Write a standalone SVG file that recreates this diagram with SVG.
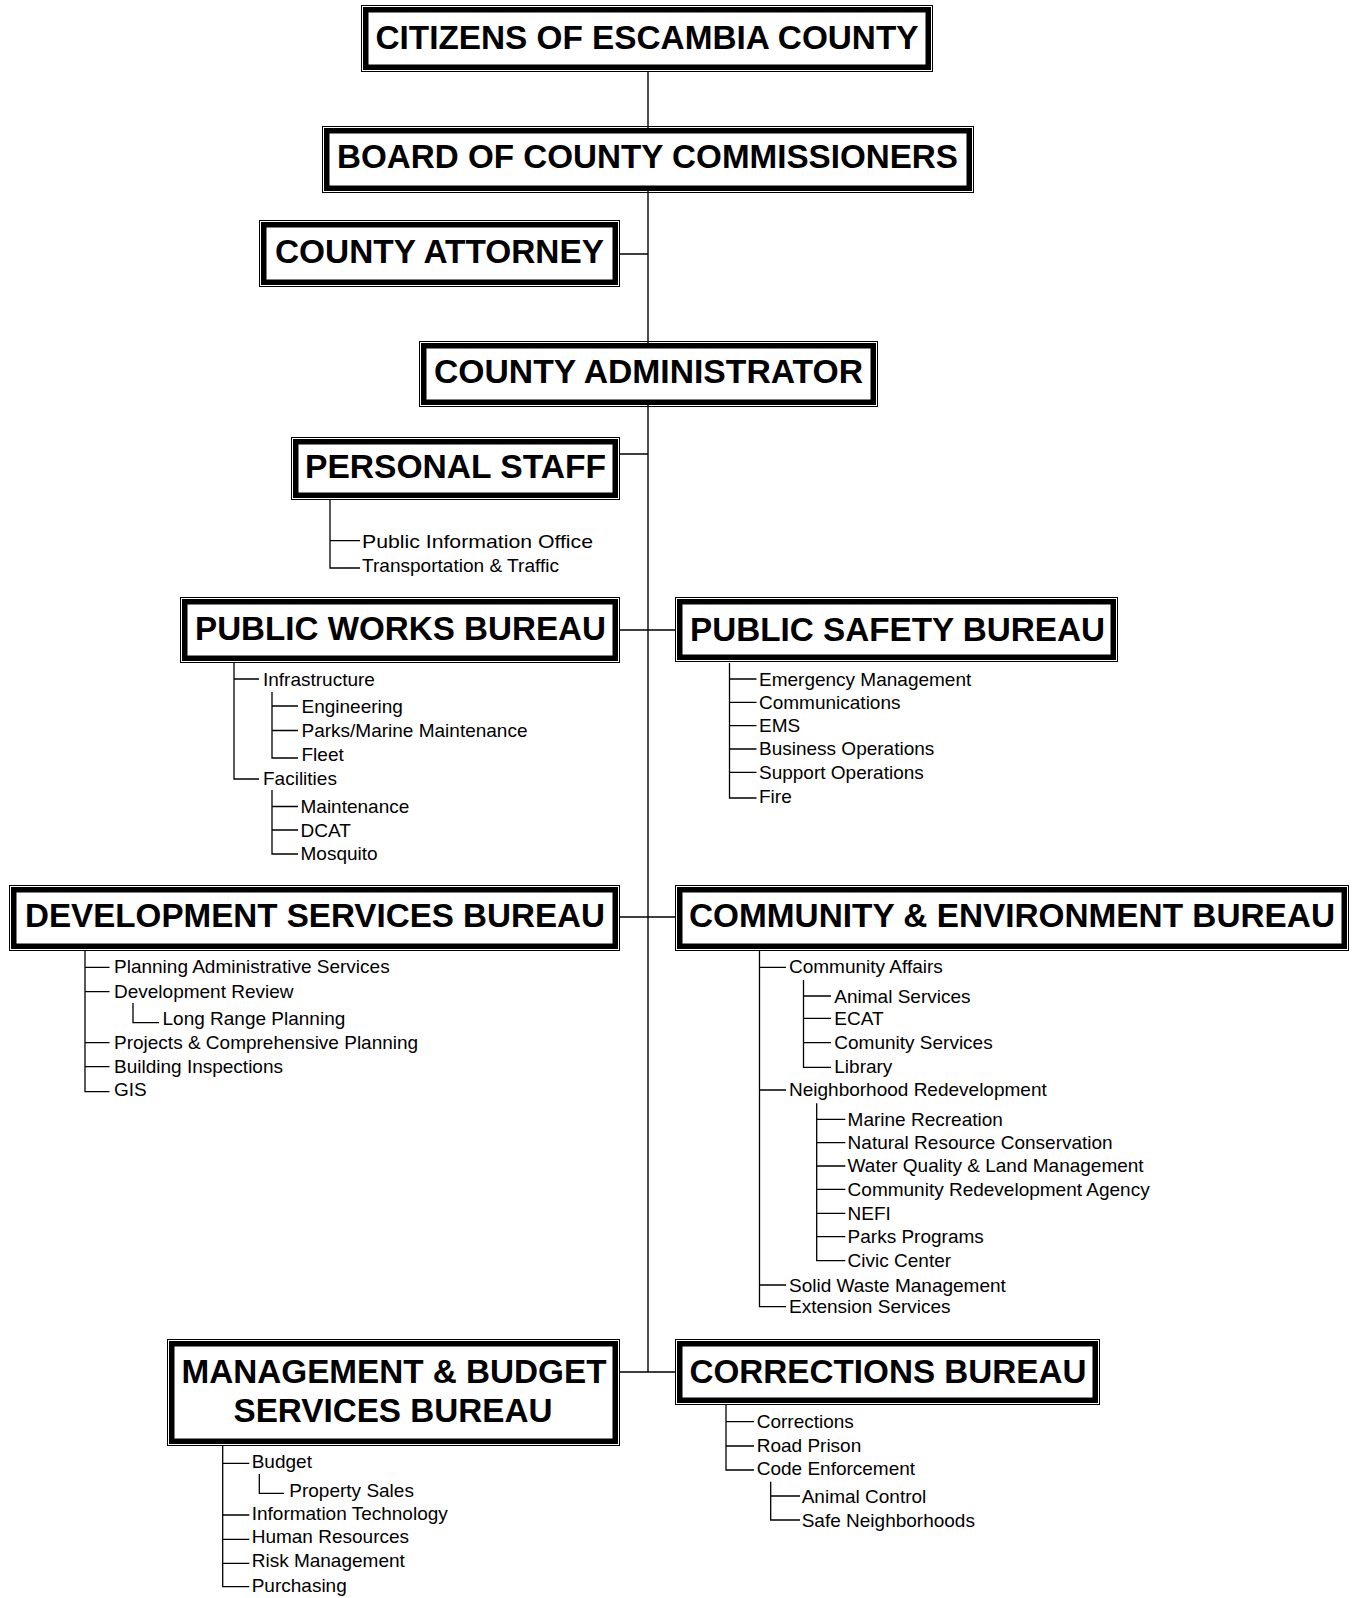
<svg xmlns="http://www.w3.org/2000/svg" width="1352" height="1598" viewBox="0 0 1352 1598">
<style>
.bg{fill:#ffffff}
.outer{fill:none;stroke:#000;stroke-width:1}
.thick{fill:#fff;stroke:#000;stroke-width:5.5}
.title{font-family:"Liberation Sans",Arial,sans-serif;font-weight:bold;font-size:33px;fill:#000;text-anchor:middle}
.item{font-family:"Liberation Sans",Arial,sans-serif;font-size:19px;fill:#000}
.ln{fill:none;stroke:#000;stroke-width:1.4}
.tr{fill:none;stroke:#000;stroke-width:1.3}
</style>
<rect class="bg" x="0" y="0" width="1352" height="1598"/>
<g id="connectors">
<path class="ln" d="M648 72V1372"/>
<path class="ln" d="M620 254H648M620 454H648M620 630H675M620 917H675M620 1372H675"/>
<!-- Personal staff tree -->
<path class="tr" d="M330 500V568H360M330 540.7H360"/>
<!-- Public works tree -->
<path class="tr" d="M234 663V779H259M234 679H259"/>
<path class="tr" d="M272 692V758H298M272 706H298M272 730.5H298"/>
<path class="tr" d="M272 790V854H298M272 806.5H298M272 830H298"/>
<!-- Public safety tree -->
<path class="tr" d="M729.5 663V798H756.5M729.5 679H756.5M729.5 702.3H756.5M729.5 725.7H756.5M729.5 749H756.5M729.5 772.3H756.5"/>
<!-- Development tree -->
<path class="tr" d="M85 951V1091.7H109.5M85 967.3H109.5M85 991.7H109.5M85 1042.7H109.5M85 1066.7H109.5"/>
<path class="tr" d="M133 1003V1022.7H159"/>
<!-- Community tree -->
<path class="tr" d="M759.5 951V1306.7H786M759.5 967.3H786M759.5 1090H786M759.5 1285H786"/>
<path class="tr" d="M803.5 980V1067.3H831M803.5 996H831M803.5 1018.3H831M803.5 1042.7H831"/>
<path class="tr" d="M816.7 1103.3V1260.7H845.3M816.7 1119.3H845.3M816.7 1142.7H845.3M816.7 1166H845.3M816.7 1189.3H845.3M816.7 1213.3H845.3M816.7 1236.7H845.3"/>
<!-- Management tree -->
<path class="tr" d="M222.7 1446V1586.7H249.3M222.7 1463.3H249.3M222.7 1515H249.3M222.7 1539.3H249.3M222.7 1563.3H249.3"/>
<path class="tr" d="M259.3 1474V1493.3H284"/>
<!-- Corrections tree -->
<path class="tr" d="M726 1405V1470H754M726 1421.7H754M726 1446H754"/>
<path class="tr" d="M770.7 1481.7V1520H800M770.7 1496H800"/>
</g>

<g id="citizens">
<rect class="outer" x="361.5" y="5.5" width="571" height="66"/>
<rect class="thick" x="365.75" y="9.75" width="562.5" height="57.5"/>
<text class="title" x="647" y="49" textLength="543" lengthAdjust="spacingAndGlyphs">CITIZENS OF ESCAMBIA COUNTY</text>
</g>

<g id="board">
<rect class="outer" x="322.5" y="126.5" width="651" height="66"/>
<rect class="thick" x="326.75" y="130.75" width="642.5" height="57.5"/>
<text class="title" x="647.5" y="168" textLength="621" lengthAdjust="spacingAndGlyphs">BOARD OF COUNTY COMMISSIONERS</text>
</g>

<g id="attorney">
<rect class="outer" x="259.5" y="220.5" width="360" height="66"/>
<rect class="thick" x="263.75" y="224.75" width="351.5" height="57.5"/>
<text class="title" x="439.5" y="263" textLength="329" lengthAdjust="spacingAndGlyphs">COUNTY ATTORNEY</text>
</g>

<g id="administrator">
<rect class="outer" x="419.5" y="341.5" width="458" height="65"/>
<rect class="thick" x="423.75" y="345.75" width="449.5" height="56.5"/>
<text class="title" x="648.5" y="383" textLength="429" lengthAdjust="spacingAndGlyphs">COUNTY ADMINISTRATOR</text>
</g>

<g id="personal-staff">
<rect class="outer" x="291.5" y="437.5" width="328" height="62"/>
<rect class="thick" x="295.75" y="441.75" width="319.5" height="53.5"/>
<text class="title" x="455.5" y="478" textLength="301" lengthAdjust="spacingAndGlyphs">PERSONAL STAFF</text>
<text class="item" x="362" y="548" font-size="20" textLength="231" lengthAdjust="spacingAndGlyphs">Public Information Office</text>
<text class="item" x="362" y="572" textLength="197" lengthAdjust="spacingAndGlyphs">Transportation &amp; Traffic</text>
</g>

<g id="public-works">
<rect class="outer" x="180.5" y="597.5" width="439" height="65"/>
<rect class="thick" x="184.75" y="601.75" width="430.5" height="56.5"/>
<text class="title" x="400.5" y="640" textLength="411" lengthAdjust="spacingAndGlyphs">PUBLIC WORKS BUREAU</text>
<text class="item" x="263" y="686">Infrastructure</text>
<text class="item" x="301.5" y="713">Engineering</text>
<text class="item" x="301.5" y="737">Parks/Marine Maintenance</text>
<text class="item" x="301.5" y="761">Fleet</text>
<text class="item" x="263" y="785">Facilities</text>
<text class="item" x="300.5" y="813">Maintenance</text>
<text class="item" x="300.5" y="837">DCAT</text>
<text class="item" x="300.5" y="860">Mosquito</text>
</g>

<g id="public-safety">
<rect class="outer" x="675.5" y="597.5" width="442" height="64"/>
<rect class="thick" x="679.75" y="601.75" width="433.5" height="55.5"/>
<text class="title" x="897.5" y="641" textLength="415" lengthAdjust="spacingAndGlyphs">PUBLIC SAFETY BUREAU</text>
<text class="item" x="759" y="686">Emergency Management</text>
<text class="item" x="759" y="709">Communications</text>
<text class="item" x="759" y="732">EMS</text>
<text class="item" x="759" y="755">Business Operations</text>
<text class="item" x="759" y="779">Support Operations</text>
<text class="item" x="759" y="803">Fire</text>
</g>

<g id="development">
<rect class="outer" x="9.5" y="885.5" width="610" height="65"/>
<rect class="thick" x="13.75" y="889.75" width="601.5" height="56.5"/>
<text class="title" x="315" y="927" textLength="580" lengthAdjust="spacingAndGlyphs">DEVELOPMENT SERVICES BUREAU</text>
<text class="item" x="114" y="973">Planning Administrative Services</text>
<text class="item" x="114" y="998">Development Review</text>
<text class="item" x="162.5" y="1025">Long Range Planning</text>
<text class="item" x="114" y="1049">Projects &amp; Comprehensive Planning</text>
<text class="item" x="114" y="1073">Building Inspections</text>
<text class="item" x="114" y="1096">GIS</text>
</g>

<g id="community">
<rect class="outer" x="675.5" y="885.5" width="673" height="65"/>
<rect class="thick" x="679.75" y="889.75" width="664.5" height="56.5"/>
<text class="title" x="1012" y="927" textLength="646" lengthAdjust="spacingAndGlyphs">COMMUNITY &amp; ENVIRONMENT BUREAU</text>
<text class="item" x="789" y="973.3">Community Affairs</text>
<text class="item" x="834.3" y="1002.7">Animal Services</text>
<text class="item" x="834.3" y="1025">ECAT</text>
<text class="item" x="834.3" y="1049.3">Comunity Services</text>
<text class="item" x="834.3" y="1073.3">Library</text>
<text class="item" x="789" y="1096">Neighborhood Redevelopment</text>
<text class="item" x="847.6" y="1126">Marine Recreation</text>
<text class="item" x="847.6" y="1149.3">Natural Resource Conservation</text>
<text class="item" x="847.6" y="1171.7">Water Quality &amp; Land Management</text>
<text class="item" x="847.6" y="1196">Community Redevelopment Agency</text>
<text class="item" x="847.6" y="1220">NEFI</text>
<text class="item" x="847.6" y="1242.7">Parks Programs</text>
<text class="item" x="847.6" y="1266.7">Civic Center</text>
<text class="item" x="789" y="1291.7">Solid Waste Management</text>
<text class="item" x="789" y="1313.3">Extension Services</text>
</g>

<g id="management-budget">
<rect class="outer" x="167.5" y="1339.5" width="452" height="106"/>
<rect class="thick" x="171.75" y="1343.75" width="443.5" height="97.5"/>
<text class="title" x="394" y="1383.3" textLength="425" lengthAdjust="spacingAndGlyphs">MANAGEMENT &amp; BUDGET</text>
<text class="title" x="393" y="1421.7" textLength="319" lengthAdjust="spacingAndGlyphs">SERVICES BUREAU</text>
<text class="item" x="251.7" y="1467.7">Budget</text>
<text class="item" x="289.3" y="1496.7">Property Sales</text>
<text class="item" x="251.7" y="1520">Information Technology</text>
<text class="item" x="251.7" y="1543.3">Human Resources</text>
<text class="item" x="251.7" y="1567.3">Risk Management</text>
<text class="item" x="251.7" y="1591.7">Purchasing</text>
</g>

<g id="corrections">
<rect class="outer" x="675.5" y="1339.5" width="424" height="65"/>
<rect class="thick" x="679.75" y="1343.75" width="415.5" height="56.5"/>
<text class="title" x="888" y="1382.5" textLength="397" lengthAdjust="spacingAndGlyphs">CORRECTIONS BUREAU</text>
<text class="item" x="756.7" y="1428.3">Corrections</text>
<text class="item" x="756.7" y="1451.7">Road Prison</text>
<text class="item" x="756.7" y="1475">Code Enforcement</text>
<text class="item" x="801.7" y="1502.7">Animal Control</text>
<text class="item" x="801.7" y="1526.7">Safe Neighborhoods</text>
</g>
</svg>
